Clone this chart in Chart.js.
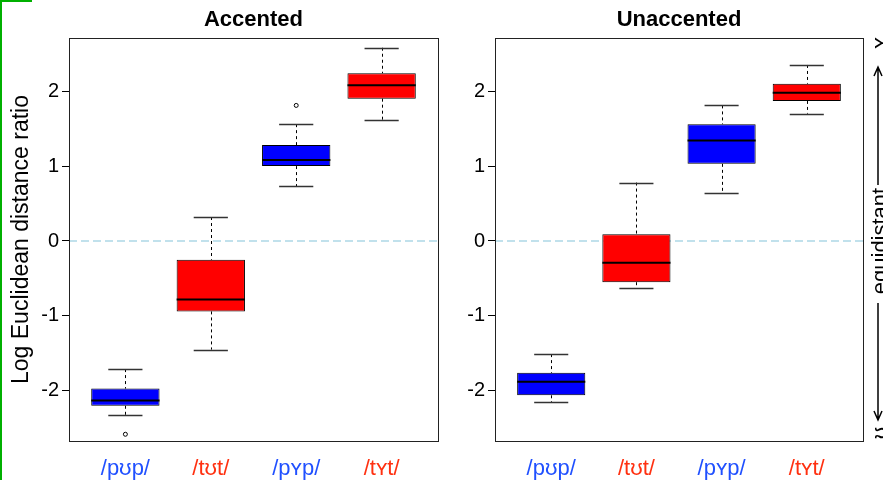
<!DOCTYPE html>
<html>
<head>
<meta charset="utf-8">
<script src="https://cdn.jsdelivr.net/npm/chart.js"></script>
<style>
  body { margin: 0; background: #fff; }
  #wrap { position: relative; width: 883px; height: 480px; overflow: hidden; }
  #left { position: absolute; left: 0; top: 0; }
  #right { position: absolute; left: 460px; top: 0; }
  #edge { position: absolute; left: 0; top: 0; width: 2px; height: 480px; background: #00b000; }
  #edgeTop { position: absolute; left: 0; top: 0; width: 32px; height: 2px; background: #00b000; }
</style>
</head>
<body>
<div id="wrap">
  <canvas id="left" width="460" height="480"></canvas>
  <canvas id="right" width="423" height="480"></canvas>
  <div id="edge"></div>
  <div id="edgeTop"></div>
</div>
<script>
const categories = ['/pʊp/', '/tʊt/', '/pʏp/', '/tʏt/'];
const boxColors = ['#0000ff', '#ff0000', '#0000ff', '#ff0000'];
const labelColors = ['#2050ff', '#ff3010', '#2050ff', '#ff3010'];
const yTicks = [-2, -1, 0, 1, 2];

// Accented
const accLow  = [-2.32, -1.45, 0.73, 1.62];
const accQ1   = [-2.20, -0.94, 1.00, 1.90];
const accMed  = [-2.13, -0.78, 1.08, 2.08];
const accQ3   = [-1.97, -0.25, 1.28, 2.24];
const accHigh = [-1.71, 0.32, 1.56, 2.58];
const accOut  = [[-2.58], [], [1.81], []];

// Unaccented
const unLow  = [-2.15, -0.63, 0.64, 1.70];
const unQ1   = [-2.06, -0.55, 1.03, 1.87];
const unMed  = [-1.88, -0.29, 1.34, 1.98];
const unQ3   = [-1.76, 0.09, 1.56, 2.10];
const unHigh = [-1.51, 0.78, 1.81, 2.35];
const unOut  = [[], [], [], []];

const FONT = 'Liberation Sans, Arial, sans-serif';

const boxPlot = {
  id: 'boxPlot',
  beforeDatasetsDraw(chart, args, opts) {
    const { ctx, chartArea: a } = chart;
    const x = chart.scales.x, y = chart.scales.y;
    // panel title, centred on the plot area
    ctx.save();
    ctx.fillStyle = '#000';
    ctx.font = 'bold 22px ' + FONT;
    ctx.textAlign = 'center';
    ctx.textBaseline = 'middle';
    ctx.fillText(opts.title, (a.left + a.right) / 2, 20);
    ctx.restore();
    // zero reference line
    ctx.save();
    ctx.strokeStyle = '#add8e6';
    ctx.lineWidth = 1.5;
    ctx.setLineDash([8, 4]);
    ctx.beginPath();
    ctx.moveTo(a.left, y.getPixelForValue(0));
    ctx.lineTo(a.right, y.getPixelForValue(0));
    ctx.stroke();
    ctx.restore();
    // whiskers
    ctx.save();
    ctx.strokeStyle = '#000';
    ctx.lineWidth = 1;
    opts.low.forEach((lo, i) => {
      const cx = Math.round(x.getPixelForValue(i + 1)) + 0.5;
      ctx.setLineDash([3, 3]);
      ctx.beginPath();
      ctx.moveTo(cx, y.getPixelForValue(opts.high[i]));
      ctx.lineTo(cx, y.getPixelForValue(opts.q3[i]));
      ctx.moveTo(cx, y.getPixelForValue(opts.q1[i]));
      ctx.lineTo(cx, y.getPixelForValue(lo));
      ctx.stroke();
      ctx.setLineDash([]);
      ctx.strokeStyle = '#333';
      ctx.lineWidth = 1.3;
      ctx.beginPath();
      const l = x.getPixelForValue(i + 0.8), r = x.getPixelForValue(i + 1.2);
      [lo, opts.high[i]].forEach(v => {
        const py = Math.round(y.getPixelForValue(v)) + 0.5;
        ctx.moveTo(l, py);
        ctx.lineTo(r, py);
      });
      ctx.stroke();
      ctx.strokeStyle = '#000';
      ctx.lineWidth = 1;
    });
    ctx.restore();
  },
  afterDatasetsDraw(chart, args, opts) {
    const { ctx, chartArea: a } = chart;
    const x = chart.scales.x, y = chart.scales.y;
    ctx.save();
    ctx.strokeStyle = '#000';
    ctx.lineWidth = 2;
    opts.med.forEach((m, i) => {
      const py = y.getPixelForValue(m);
      ctx.beginPath();
      ctx.moveTo(x.getPixelForValue(i + 0.6), py);
      ctx.lineTo(x.getPixelForValue(i + 1.4), py);
      ctx.stroke();
    });
    ctx.lineWidth = 1;
    opts.out.forEach((list, i) => {
      list.forEach(v => {
        ctx.beginPath();
        ctx.arc(x.getPixelForValue(i + 1), y.getPixelForValue(v), 2, 0, Math.PI * 2);
        ctx.stroke();
      });
    });
    // frame
    ctx.strokeStyle = '#222';
    ctx.strokeRect(Math.round(a.left) + 0.5, Math.round(a.top) + 0.5,
      Math.round(a.right - a.left), Math.round(a.bottom - a.top));
    ctx.restore();
  }
};

const sideNote = {
  id: 'sideNote',
  afterDraw(chart) {
    const ctx = chart.ctx;
    const ax = 418;
    ctx.save();
    ctx.strokeStyle = '#000';
    ctx.fillStyle = '#000';
    ctx.lineWidth = 1.5;
    ctx.beginPath();
    ctx.moveTo(ax, 185); ctx.lineTo(ax, 67);
    ctx.moveTo(ax - 4, 76); ctx.lineTo(ax, 67); ctx.lineTo(ax + 4, 76);
    ctx.moveTo(ax, 303); ctx.lineTo(ax, 420);
    ctx.moveTo(ax - 4, 411); ctx.lineTo(ax, 420); ctx.lineTo(ax + 4, 411);
    ctx.stroke();
    ctx.font = '22px ' + FONT;
    ctx.textAlign = 'center';
    ctx.textBaseline = 'alphabetic';
    [['ʏ', 43], ['equidistant', 241], ['ʊ', 433]].forEach(([t, cy]) => {
      ctx.save();
      ctx.translate(427, cy);
      ctx.rotate(-Math.PI / 2);
      ctx.fillText(t, 0, 0);
      ctx.restore();
    });
    ctx.restore();
  }
};

function makeChart(id, title, q1, q3, low, med, high, out, yWidth, padRight, yTitle, extra) {
  return new Chart(document.getElementById(id), {
    type: 'bar',
    data: {
      datasets: [{
        data: categories.map((c, i) => ({ x: i + 1, y: [q1[i], q3[i]] })),
        backgroundColor: boxColors,
        borderColor: '#000',
        borderWidth: 1,
        borderSkipped: false,
        barPercentage: 0.8,
        categoryPercentage: 1
      }]
    },
    options: {
      responsive: false,
      animation: false,
      layout: { padding: { left: 0, right: padRight, top: 38, bottom: 0 } },
      plugins: {
        legend: { display: false },
        tooltip: { enabled: false },
        title: { display: false },
        boxPlot: { title, low, q1, med, q3, high, out }
      },
      scales: {
        x: {
          type: 'linear', min: 0.34, max: 4.66, offset: false,
          afterBuildTicks: s => { s.ticks = categories.map((c, i) => ({ value: i + 1 })); },
          afterFit: s => { s.height = 39; },
          grid: { display: false },
          border: { display: false },
          ticks: {
            padding: 7,
            font: { family: FONT, size: 22 },
            color: c => labelColors[c.index],
            callback: (v, i) => categories[i]
          }
        },
        y: {
          min: -2.67, max: 2.71,
          afterBuildTicks: s => { s.ticks = yTicks.map(v => ({ value: v })); },
          afterFit: s => { s.width = yWidth; },
          grid: { drawOnChartArea: false, tickLength: 7, color: '#000' },
          border: { display: false },
          title: {
            display: !!yTitle, text: yTitle || '', color: '#000',
            font: { family: FONT, size: 23, lineHeight: 1.2 },
            padding: { top: 8, bottom: 0 }
          },
          ticks: {
            padding: 3, color: '#000',
            font: { family: FONT, size: 20 }
          }
        }
      }
    },
    plugins: [boxPlot].concat(extra)
  });
}

makeChart('left', 'Accented', accQ1, accQ3, accLow, accMed, accHigh, accOut,
  69, 22, 'Log Euclidean distance ratio', []);
makeChart('right', 'Unaccented', unQ1, unQ3, unLow, unMed, unHigh, unOut,
  35, 20, null, [sideNote]);
</script>
</body>
</html>
